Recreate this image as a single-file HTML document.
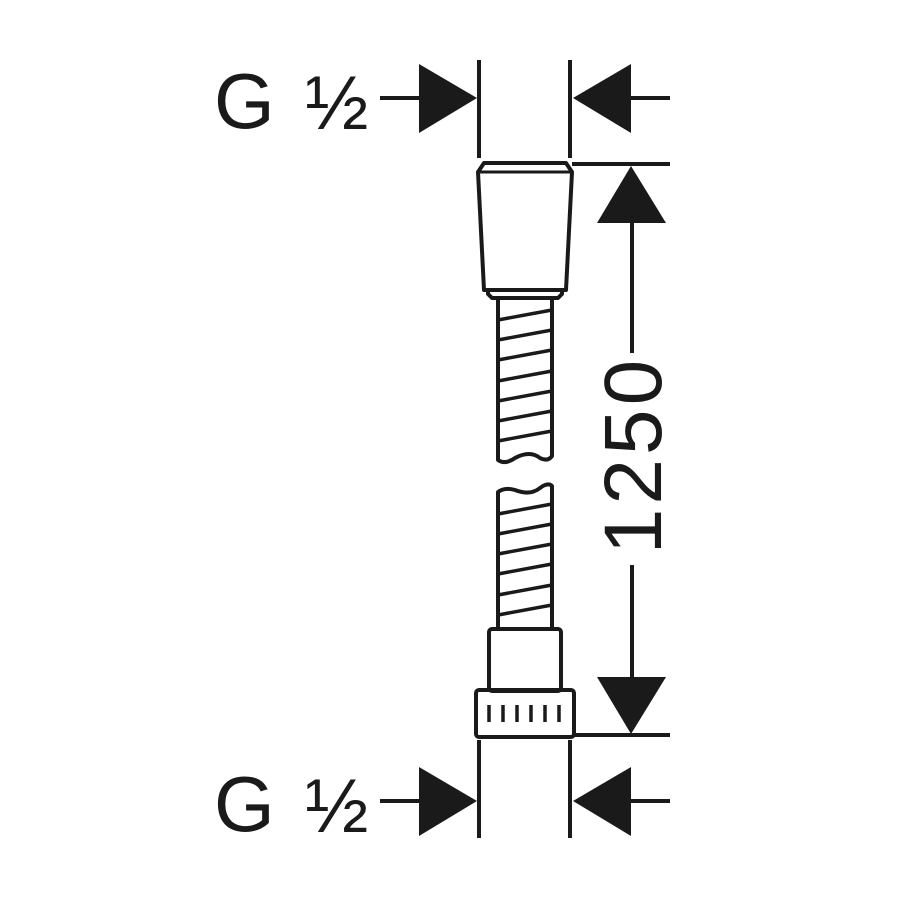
<!DOCTYPE html>
<html><head><style>html,body{margin:0;padding:0;background:#fff}svg{display:block}</style></head>
<body>
<svg width="900" height="900" viewBox="0 0 900 900" xmlns="http://www.w3.org/2000/svg">
<rect width="900" height="900" fill="#fff"/>
<g stroke="#1a1a1a" stroke-width="4" fill="none" stroke-linejoin="round">
  <line x1="479" y1="60" x2="479" y2="158"/>
  <line x1="570" y1="60" x2="570" y2="158"/>
  <line x1="479" y1="740" x2="479" y2="838"/>
  <line x1="570" y1="740" x2="570" y2="838"/>
  <line x1="572" y1="164" x2="670" y2="164"/>
  <line x1="572" y1="735" x2="670" y2="735"/>
  <line x1="380" y1="98" x2="420" y2="98"/>
  <line x1="630" y1="98" x2="670" y2="98"/>
  <line x1="380" y1="801" x2="420" y2="801"/>
  <line x1="630" y1="801" x2="670" y2="801"/>
  <line x1="632" y1="220" x2="632" y2="353"/>
  <line x1="632" y1="565" x2="632" y2="680"/>
  <path d="M484 163 L566 163 L572 172 L566 290 L484 290 L478 172 Z" stroke-width="4"/>
  <line x1="480" y1="172" x2="570" y2="172" stroke-width="3"/>
  <path d="M488 290 L488 294 L492 298 L558 298 L562 294 L562 290"/>
  <path d="M498 298 L498 460 Q505 465 515 458 Q530 450 540 458 Q548 462 552 456 L552 298"/>
  <path d="M498 628 L498 492 Q505 487 515 490 Q530 496 540 488 Q548 482 552 486 L552 628"/>
  <g stroke-width="3.5">
    <line x1="498" y1="320" x2="552" y2="310"/>
    <line x1="498" y1="340" x2="552" y2="330"/>
    <line x1="498" y1="360" x2="552" y2="350"/>
    <line x1="498" y1="381" x2="552" y2="371"/>
    <line x1="498" y1="401" x2="552" y2="391"/>
    <line x1="498" y1="421" x2="552" y2="411"/>
    <line x1="498" y1="441" x2="552" y2="431"/>
    <line x1="498" y1="514" x2="552" y2="504"/>
    <line x1="498" y1="534" x2="552" y2="524"/>
    <line x1="498" y1="554" x2="552" y2="544"/>
    <line x1="498" y1="574" x2="552" y2="564"/>
    <line x1="498" y1="595" x2="552" y2="585"/>
    <line x1="498" y1="615" x2="552" y2="605"/>
  </g>
  <rect x="489" y="629" width="72" height="62" rx="3"/>
  <rect x="476" y="690" width="98" height="47" rx="3"/>
  <g stroke-width="3.5">
    <line x1="489" y1="705" x2="489" y2="722"/>
    <line x1="503" y1="705" x2="503" y2="722"/>
    <line x1="517" y1="705" x2="517" y2="722"/>
    <line x1="531" y1="705" x2="531" y2="722"/>
    <line x1="545" y1="705" x2="545" y2="722"/>
    <line x1="559" y1="705" x2="559" y2="722"/>
  </g>
</g>
<g fill="#1a1a1a">
  <polygon points="419,64 477,98 419,133"/>
  <polygon points="631,64 573,98 631,133"/>
  <polygon points="419,767 477,801 419,836"/>
  <polygon points="631,767 573,801 631,836"/>
  <polygon points="631,166 597,223 666,223"/>
  <polygon points="631,734 597,677 666,677"/>
</g>
<g font-family="Liberation Sans, sans-serif" fill="#1a1a1a">
  <text x="214" y="128" font-size="78">G</text>
  <text x="305" y="129" font-size="76">½</text>
  <text x="214" y="831" font-size="78">G</text>
  <text x="305" y="832" font-size="76">½</text>
  <text transform="translate(661,455) rotate(-90)" text-anchor="middle" font-size="82" letter-spacing="4">1250</text>
</g>
</svg>
</body></html>
